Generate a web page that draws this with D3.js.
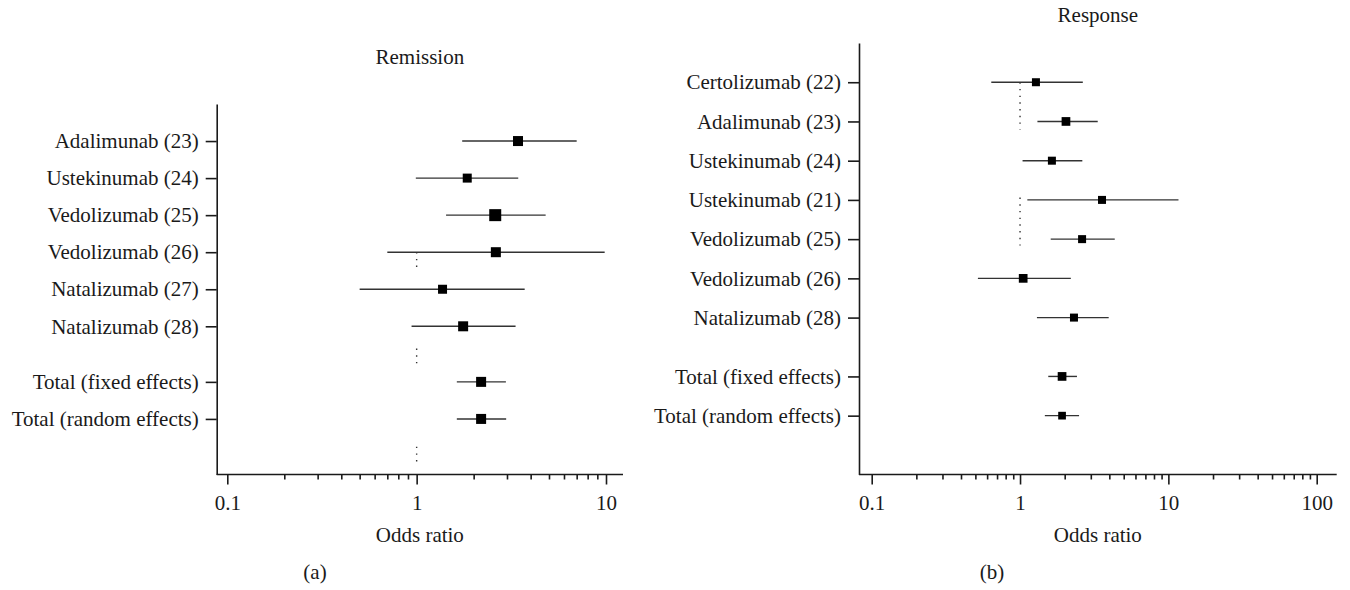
<!DOCTYPE html>
<html>
<head>
<meta charset="utf-8">
<script src="https://d3js.org/d3.v7.min.js"></script>
<style>
  body { margin: 0; background: #fff; }
  svg text { font-family: "Liberation Serif", "DejaVu Serif", serif; fill: #1a1a1a; }
</style>
</head>
<body>
<div id="chart"></div>
<script>
// panel (a) remission
var studiesA = ["Adalimunab (23)", "Ustekinumab (24)", "Vedolizumab (25)", "Vedolizumab (26)", "Natalizumab (27)", "Natalizumab (28)"];
var totalsA = ["Total (fixed effects)", "Total (random effects)"];
var orA = [3.43, 1.85, 2.60, 2.62, 1.37, 1.76, 2.19, 2.19];
var lowA = [1.74, 0.99, 1.43, 0.70, 0.50, 0.94, 1.63, 1.63];
var highA = [7.0, 3.44, 4.80, 9.84, 3.72, 3.33, 2.96, 2.97];
var weightA = [10, 9, 12, 10, 9, 10, 10, 10];
// dotted line at OR = 1, given in row units (only bits of it are visible)
var refA = [[3, 3.4], [5.6, 6.05], [8.25, 8.7]];

// panel (b) response
var studiesB = ["Certolizumab (22)", "Adalimunab (23)", "Ustekinumab (24)", "Ustekinumab (21)", "Vedolizumab (25)", "Vedolizumab (26)", "Natalizumab (28)"];
var totalsB = ["Total (fixed effects)", "Total (random effects)"];
var orB = [1.28, 2.04, 1.64, 3.57, 2.62, 1.05, 2.31, 1.92, 1.92];
var lowB = [0.64, 1.31, 1.04, 1.12, 1.61, 0.52, 1.30, 1.55, 1.47];
var highB = [2.65, 3.34, 2.63, 11.7, 4.35, 2.20, 3.96, 2.42, 2.50];
var weightB = [8, 8.7, 8, 8, 8, 8.7, 8, 8.7, 7.7];
var refB = [[0, 1.21], [2.94, 4.16]];

var svg = d3.select("#chart").append("svg")
  .attr("width", 1350)
  .attr("height", 590);

var fontSize = "21px";

function forest(opt) {
  var labels = opt.studies.concat(opt.totals);
  var rows = [];
  for (var i = 0; i < opt.studies.length; i++) rows.push(i);
  for (var j = 0; j < opt.totals.length; j++) rows.push(opt.studies.length + 0.5 + j);

  var x = d3.scaleLog().domain(opt.xDomain).range(opt.xRange);
  var y = d3.scaleLinear().domain(opt.rowDomain).range(opt.yRange);
  var size = d3.scaleLinear().domain([0, 10]).range([0, 10]);

  var g = svg.append("g");

  // dotted reference line at 1
  g.selectAll(".ref")
    .data(opt.ref)
    .enter()
    .append("line")
    .attr("x1", x(1)).attr("x2", x(1))
    .attr("y1", function (d) { return y(d[0]); })
    .attr("y2", function (d) { return y(d[1]); })
    .attr("stroke", "#333")
    .attr("stroke-width", 1.4)
    .attr("stroke-dasharray", "1.4,5.3");

  // confidence intervals
  g.selectAll(".ci")
    .data(rows)
    .enter()
    .append("line")
    .attr("x1", function (d, i) { return x(opt.low[i]); })
    .attr("x2", function (d, i) { return x(opt.high[i]); })
    .attr("y1", function (d) { return y(d); })
    .attr("y2", function (d) { return y(d); })
    .attr("stroke", "#333")
    .attr("stroke-width", 1.4);

  // point estimates
  g.selectAll(".pt")
    .data(rows)
    .enter()
    .append("rect")
    .attr("x", function (d, i) { return x(opt.or[i]) - size(opt.weight[i]) / 2; })
    .attr("y", function (d, i) { return y(d) - size(opt.weight[i]) / 2; })
    .attr("width", function (d, i) { return size(opt.weight[i]); })
    .attr("height", function (d, i) { return size(opt.weight[i]); })
    .attr("fill", "#000");

  // y axis with study labels
  var yAxis = g.append("g")
    .attr("transform", "translate(" + opt.axisX + ",0)")
    .call(d3.axisLeft(y).tickValues(rows).tickSize(11).tickSizeOuter(0).tickPadding(7)
      .tickFormat(function (d) { return labels[rows.indexOf(d)]; }));
  yAxis.selectAll("text").style("font-size", fontSize);

  // x axis, minor ticks first, then decades with labels
  var minor = [];
  for (var e = opt.xDomain[0]; e < opt.xDomain[1] * 0.99; e *= 10) {
    for (var k = 2; k <= 9; k++) minor.push(e * k);
  }
  var xMinor = g.append("g")
    .attr("transform", "translate(0," + y(opt.rowDomain[1]) + ")")
    .call(d3.axisBottom(x).tickValues(minor).tickSize(5).tickFormat(""));
  xMinor.select(".domain").remove();

  var decades = [];
  for (var v = opt.xDomain[0]; v <= opt.xDomain[1] * 1.01; v *= 10) decades.push(v);
  var xAxis = g.append("g")
    .attr("transform", "translate(0," + y(opt.rowDomain[1]) + ")")
    .call(d3.axisBottom(x).tickValues(decades).tickSize(10).tickPadding(11)
      .tickFormat(d3.format("~g")));
  xAxis.select(".domain").remove();
  xAxis.selectAll("text").style("font-size", fontSize);

  g.append("line")
    .attr("x1", opt.axisX).attr("x2", opt.axisEnd)
    .attr("y1", y(opt.rowDomain[1])).attr("y2", y(opt.rowDomain[1]))
    .attr("stroke", "#1a1a1a").attr("stroke-width", 1.6);

  g.selectAll(".domain, .tick line").attr("stroke", "#1a1a1a").attr("stroke-width", 1.6);

  var mid = (opt.axisX + opt.axisEnd) / 2;
  g.append("text")
    .attr("x", mid).attr("y", opt.titleY)
    .attr("text-anchor", "middle")
    .style("font-size", fontSize)
    .text(opt.title);

  g.append("text")
    .attr("x", mid).attr("y", 542)
    .attr("text-anchor", "middle")
    .style("font-size", fontSize)
    .text("Odds ratio");

  g.append("text")
    .attr("x", opt.tagX).attr("y", 579)
    .attr("text-anchor", "middle")
    .style("font-size", fontSize)
    .text(opt.tag);
}

forest({
  title: "Remission", titleY: 64, tag: "(a)", tagX: 315,
  studies: studiesA, totals: totalsA,
  or: orA, low: lowA, high: highA, weight: weightA, ref: refA,
  xDomain: [0.1, 10], xRange: [227.3, 606],
  rowDomain: [-1, 9], yRange: [104, 474.5],
  axisX: 216.7, axisEnd: 623
});

forest({
  title: "Response", titleY: 22, tag: "(b)", tagX: 992,
  studies: studiesB, totals: totalsB,
  or: orB, low: lowB, high: highB, weight: weightB, ref: refB,
  xDomain: [0.1, 100], xRange: [871.7, 1316.7],
  rowDomain: [-1, 10], yRange: [43, 474.5],
  axisX: 859, axisEnd: 1336.7
});
</script>
</body>
</html>
